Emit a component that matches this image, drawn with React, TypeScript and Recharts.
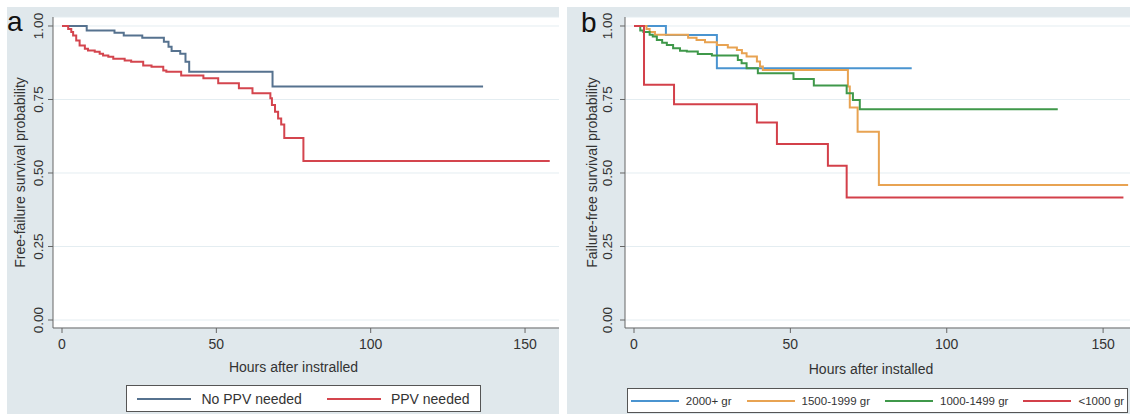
import React from 'react';
import { LineChart, Line, XAxis, YAxis, CartesianGrid, Label } from 'recharts';

// ---------- Panel a data (Kaplan-Meier steps) ----------
const noPpvTimes = [0, 8, 17, 20, 26, 33, 34.5, 35.5, 38.3, 40, 41.2, 68.2, 136.4];
const noPpvSurv = [1, 0.985, 0.977, 0.968, 0.96, 0.946, 0.929, 0.915, 0.906, 0.878, 0.844, 0.794, 0.794];

const ppvTimes = [0, 2, 3, 3.6, 4.6, 5.7, 7.4, 8.4, 10.6, 12.2, 13.3, 15, 16.6, 20.3, 22.4, 26.3, 29, 32.8, 33.8, 38.6, 45.8, 50.6, 57.3, 61.7, 67.5, 68, 69, 70, 71, 72, 78.2, 158];
const ppvSurv = [1, 0.99, 0.98, 0.968, 0.951, 0.934, 0.923, 0.917, 0.912, 0.906, 0.9, 0.895, 0.889, 0.883, 0.878, 0.866, 0.861, 0.849, 0.844, 0.832, 0.822, 0.805, 0.788, 0.771, 0.754, 0.731, 0.708, 0.685, 0.665, 0.619, 0.541, 0.541];

// ---------- Panel b data ----------
const g2000Times = [0, 10.2, 26.5, 88.8];
const g2000Surv = [1, 0.969, 0.856, 0.856];

const g1500Times = [0, 4, 5, 6.7, 17.3, 20, 22.7, 26.5, 30, 32.9, 34.5, 36, 39.3, 40.3, 41.2, 68.4, 69, 71.5, 78.3, 158];
const g1500Surv = [1, 0.99, 0.98, 0.97, 0.96, 0.952, 0.945, 0.935, 0.927, 0.918, 0.907, 0.896, 0.879, 0.862, 0.85, 0.794, 0.723, 0.64, 0.459, 0.459];

const g1000Times = [0, 2, 3, 5, 6, 7.3, 9, 10.5, 12.5, 14.7, 16.9, 20.4, 24.9, 33.2, 34.4, 36, 39.6, 51, 57.5, 68, 70, 72.2, 135.5];
const g1000Surv = [1, 0.985, 0.98, 0.97, 0.964, 0.952, 0.943, 0.935, 0.924, 0.916, 0.913, 0.905, 0.9, 0.884, 0.873, 0.856, 0.839, 0.82, 0.798, 0.771, 0.748, 0.717, 0.717];

const gLt1000Times = [0, 3.2, 12.8, 39.3, 45.7, 62, 68, 156.5];
const gLt1000Surv = [1, 0.8, 0.734, 0.672, 0.599, 0.525, 0.417, 0.417];

// ---------- Axis ticks / labels ----------
const xTicks = [0, 50, 100, 150];
const yTicks = [0, 0.25, 0.5, 0.75, 1];
const xTitleA = 'Hours after instralled';
const xTitleB = 'Hours after installed';
const yTitleA = 'Free-failure survival probability';
const yTitleB = 'Failure-free survival probability';

const toPoints = (times: number[], surv: number[]) => times.map((t, i) => ({ t, s: surv[i] }));

type Series = { name: string; color: string; points: { t: number; s: number }[] };

const seriesA: Series[] = [
  { name: 'No PPV needed', color: '#56728f', points: toPoints(noPpvTimes, noPpvSurv) },
  { name: 'PPV needed', color: '#d4454e', points: toPoints(ppvTimes, ppvSurv) },
];

const seriesB: Series[] = [
  { name: '2000+ gr', color: '#4a94d0', points: toPoints(g2000Times, g2000Surv) },
  { name: '1500-1999 gr', color: '#e8a352', points: toPoints(g1500Times, g1500Surv) },
  { name: '1000-1499 gr', color: '#3f984a', points: toPoints(g1000Times, g1000Surv) },
  { name: '<1000 gr', color: '#d3404a', points: toPoints(gLt1000Times, gLt1000Surv) },
];

const FONT = '"Liberation Sans", Arial, sans-serif';
const BG = '#e0e8ec';
const TXT = '#333';

type PanelProps = {
  left: number;
  width: number;
  yAxisWidth: number;
  xDomain: [number, number];
  series: Series[];
  xTitle: string;
  yTitle: string;
  yTickShift: number;
  yTitleX: number;
  xTitleDy: number;
  xTitleDx: number;
};

const Panel = (p: PanelProps) => {
  const yTick = (props: any) => {
    const { x, y, payload } = props;
    return (
      <text
        transform={`translate(${x - p.yTickShift},${y}) rotate(-90)`}
        textAnchor="middle"
        fontSize={13.5}
        fill={TXT}
      >
        {Number(payload.value).toFixed(2)}
      </text>
    );
  };
  return (
    <div style={{ position: 'absolute', left: p.left, top: 7, width: p.width, height: 407, background: BG, fontFamily: FONT }}>
      <LineChart width={p.width} height={408} margin={{ top: 10, right: 0, left: 0, bottom: 0 }}>
        <CartesianGrid horizontal vertical={false} fill="#ffffff" stroke="#e4edf1" strokeWidth={1} />
        <XAxis
          type="number"
          dataKey="t"
          domain={p.xDomain}
          ticks={xTicks}
          allowDataOverflow
          height={87}
          tickSize={5}
          tickMargin={6}
          stroke="#666"
          tick={{ fontSize: 14, fill: TXT }}
        >
          <Label
            content={(lp: any) => {
              const vb = lp.viewBox || { x: 0, y: 321, width: p.width, height: 87 };
              return (
                <text x={vb.x + vb.width / 2 + p.xTitleDx} y={vb.y + p.xTitleDy} textAnchor="middle" fontSize={14} fill={TXT}>
                  {p.xTitle}
                </text>
              );
            }}
          />
        </XAxis>
        <YAxis
          type="number"
          domain={[-0.0272, 1.0306]}
          ticks={yTicks}
          allowDataOverflow
          width={p.yAxisWidth}
          tickSize={5}
          stroke="#666"
          tick={yTick}
        >
          <Label
            content={(lp: any) => {
              const vb = lp.viewBox || { x: 0, y: 10, width: p.yAxisWidth, height: 311 };
              return (
                <text
                  transform={`translate(${vb.x + p.yTitleX},${vb.y + vb.height / 2}) rotate(-90)`}
                  textAnchor="middle"
                  fontSize={14}
                  fill={TXT}
                >
                  {p.yTitle}
                </text>
              );
            }}
          />
        </YAxis>
        {p.series.map((s) => (
          <Line
            key={s.name}
            name={s.name}
            data={s.points}
            dataKey="s"
            type="stepAfter"
            stroke={s.color}
            strokeWidth={2}
            dot={false}
            activeDot={false}
            isAnimationActive={false}
          />
        ))}
      </LineChart>
    </div>
  );
};

const LegendBox = ({ series, left, top, width, height, fontSize, lineW, lineGap, itemGap }: any) => (
  <div
    style={{
      position: 'absolute',
      left,
      top,
      width,
      height,
      background: '#fff',
      border: '1px solid #555',
      boxSizing: 'border-box',
      display: 'flex',
      alignItems: 'center',
      justifyContent: 'center',
      fontFamily: FONT,
      fontSize,
      color: TXT,
      gap: itemGap,
    }}
  >
    {series.map((s: Series) => (
      <div key={s.name} style={{ display: 'flex', alignItems: 'center' }}>
        <div style={{ width: lineW, height: 0, borderTop: `2px solid ${s.color}`, marginRight: lineGap }} />
        <span style={{ whiteSpace: 'nowrap' }}>{s.name}</span>
      </div>
    ))}
  </div>
);

export default function App() {
  return (
    <div style={{ position: 'absolute', left: 0, top: 0, width: 1130, height: 415, background: '#fff', overflow: 'hidden' }}>
      <Panel
        left={7}
        width={552}
        yAxisWidth={46}
        xDomain={[-2.92, 161.0]}
        series={seriesA}
        xTitle={xTitleA}
        yTitle={yTitleA}
        yTickShift={3}
        yTitleX={18}
        xTitleDy={44}
        xTitleDx={-12.5}
      />
      <Panel
        left={567}
        width={563}
        yAxisWidth={58}
        xDomain={[-2.88, 158.6]}
        series={seriesB}
        xTitle={xTitleB}
        yTitle={yTitleB}
        yTickShift={6}
        yTitleX={30}
        xTitleDy={46}
        xTitleDx={-6.5}
      />
      <LegendBox series={seriesA} left={126} top={385} width={355} height={27} fontSize={14} lineW={54} lineGap={10} itemGap={25} />
      <LegendBox series={seriesB} left={627} top={388} width={501} height={25} fontSize={11.5} lineW={48} lineGap={7} itemGap={15} />
      <div style={{ position: 'absolute', left: 7, top: 8, fontFamily: FONT, fontSize: 28, lineHeight: '28px', color: '#111' }}>a</div>
      <div style={{ position: 'absolute', left: 581, top: 9, fontFamily: FONT, fontSize: 28, lineHeight: '28px', color: '#111' }}>b</div>
    </div>
  );
}
